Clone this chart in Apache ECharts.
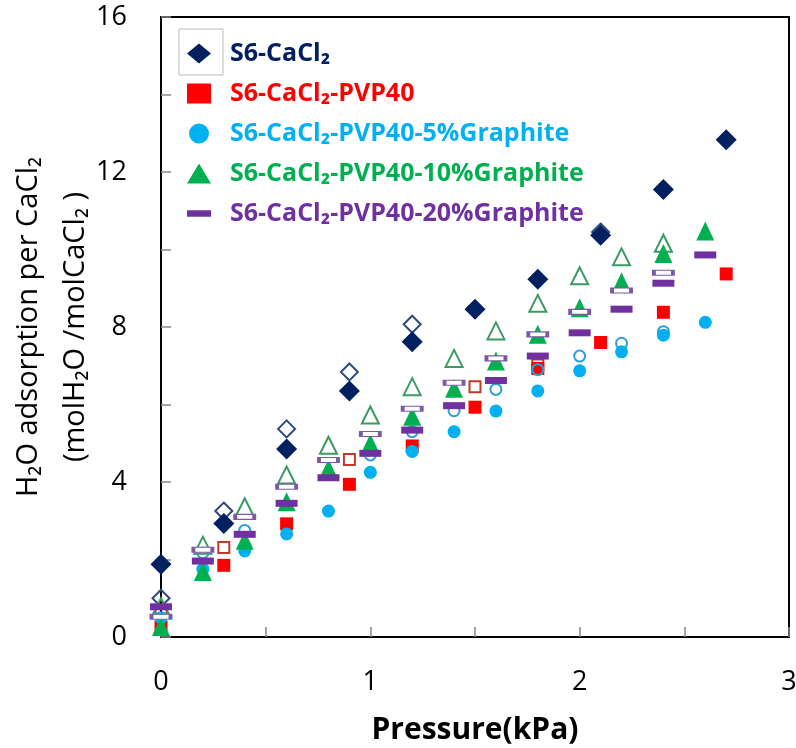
<!DOCTYPE html>
<html>
<head>
<meta charset="utf-8">
<script src="https://cdn.jsdelivr.net/npm/echarts@6/dist/echarts.min.js"></script>
<style>
  html, body { margin: 0; padding: 0; background: #fff; }
  #chart { width: 796px; height: 748px; }
</style>
</head>
<body>
<div id="chart"></div>
<script>
// pressure values (kPa)
const xCaCl2 = [0, 0.3, 0.6, 0.9, 1.2, 1.5, 1.8, 2.1, 2.4, 2.7];
const xCaCl2Hollow = [0, 0.3, 0.6, 0.9, 1.2, 2.1];
const xPvp40 = [0, 0.3, 0.6, 0.9, 1.2, 1.5, 1.8, 2.1, 2.4, 2.7];
const xPvp40Hollow = [0, 0.3, 0.9, 1.5, 1.8];
const xG5 = [0, 0.2, 0.4, 0.6, 0.8, 1.0, 1.2, 1.4, 1.6, 1.8, 2.0, 2.2, 2.4, 2.6];
const xG5Hollow = [0.2, 0.4, 1.0, 1.2, 1.4, 1.6, 1.8, 2.0, 2.2, 2.4];
const xG10 = [0, 0.2, 0.4, 0.6, 0.8, 1.0, 1.2, 1.4, 1.6, 1.8, 2.0, 2.2, 2.4, 2.6];
const xG10Hollow = [0, 0.2, 0.4, 0.6, 0.8, 1.0, 1.2, 1.4, 1.6, 1.8, 2.0, 2.2, 2.4];
const xG20 = [0, 0.2, 0.4, 0.6, 0.8, 1.0, 1.2, 1.4, 1.6, 1.8, 2.0, 2.2, 2.4, 2.6];
const xG20Hollow = [0, 0.2, 0.4, 0.6, 0.8, 1.0, 1.2, 1.4, 1.6, 1.8, 2.0, 2.2, 2.4];

// H2O adsorption (molH2O/molCaCl2)
const yCaCl2 = [1.88, 2.93, 4.85, 6.35, 7.62, 8.46, 9.23, 10.37, 11.55, 12.83];
const yCaCl2Hollow = [1.0, 3.25, 5.37, 6.84, 8.07, 10.45];
const yPvp40 = [0.25, 1.85, 2.92, 3.94, 4.93, 5.93, 6.93, 7.6, 8.38, 9.37];
const yPvp40Hollow = [0.6, 2.31, 4.58, 6.46, 7.02];
const yG5 = [0.5, 1.75, 2.22, 2.66, 3.25, 4.25, 4.79, 5.3, 5.83, 6.35, 6.87, 7.36, 7.79, 8.12];
const yG5Hollow = [2.17, 2.75, 4.7, 5.3, 5.84, 6.39, 6.9, 7.25, 7.58, 7.88];
const yG10 = [0.27, 1.69, 2.5, 3.49, 4.35, 5.0, 5.7, 6.42, 7.12, 7.81, 8.5, 9.17, 9.9, 10.48];
const yG10Hollow = [0.78, 2.37, 3.36, 4.18, 4.95, 5.73, 6.46, 7.19, 7.9, 8.61, 9.32, 9.81, 10.16];
const yG20 = [0.78, 1.96, 2.65, 3.45, 4.11, 4.74, 5.34, 5.97, 6.62, 7.25, 7.85, 8.46, 9.13, 9.86];
const yG20Hollow = [0.52, 2.25, 3.1, 3.88, 4.57, 5.24, 5.89, 6.56, 7.19, 7.81, 8.39, 8.94, 9.4];

const names = [
  'S6-CaCl₂',
  'S6-CaCl₂-PVP40',
  'S6-CaCl₂-PVP40-5%Graphite',
  'S6-CaCl₂-PVP40-10%Graphite',
  'S6-CaCl₂-PVP40-20%Graphite'
];
const colors = ['#002060', '#ff0000', '#00b0f0', '#00b050', '#7030a0'];
const hollowColors = ['#2f4a80', '#c0392b', '#2e9fd8', '#3a9a62', '#7a5aa6'];

function pairs(xs, ys) {
  return xs.map((x, i) => [x, ys[i]]);
}

const chartDom = document.getElementById('chart');
const myChart = echarts.init(chartDom);

const font = '"Open Sans", "DejaVu Sans", sans-serif';

function filled(i, data, symbol, size) {
  return {
    name: names[i],
    type: 'scatter',
    data: data,
    symbol: symbol,
    symbolSize: size,
    itemStyle: { color: colors[i], opacity: 1 },
    emphasis: { disabled: true }
  };
}
function hollow(i, data, symbol, size, fill) {
  return {
    name: names[i] + ' (des)',
    type: 'scatter',
    data: data,
    symbol: symbol,
    symbolSize: size,
    itemStyle: {
      color: fill || 'rgba(255,255,255,0)',
      borderColor: hollowColors[i],
      borderWidth: 2,
      opacity: 1
    },
    emphasis: { disabled: true }
  };
}

let option = {
  backgroundColor: '#fff',
  animation: false,
  grid: {
    left: 161,
    top: 17,
    width: 628,
    height: 620,
    outerBoundsMode: 'none',
    containLabel: false,
    show: true,
    borderColor: '#000',
    borderWidth: 2,
    backgroundColor: 'transparent'
  },
  legend: {
    orient: 'vertical',
    left: 187,
    top: 41,
    padding: 0,
    itemGap: 15,
    itemWidth: 24,
    itemHeight: 20,
    selectedMode: false,
    textStyle: {
      fontFamily: font,
      fontWeight: 'bold',
      fontSize: 25,
      lineHeight: 20,
      padding: [0, 0, 0, 14]
    },
    data: [
      { name: names[0], icon: 'diamond', textStyle: { color: colors[0] } },
      { name: names[1], icon: 'rect', textStyle: { color: colors[1] } },
      { name: names[2], icon: 'circle', textStyle: { color: colors[2] } },
      { name: names[3], icon: 'triangle', textStyle: { color: colors[3] } },
      { name: names[4], icon: 'path://M0,0H26V7H0Z', textStyle: { color: colors[4] } }
    ]
  },
  graphic: [
    {
      type: 'rect',
      shape: { x: 179, y: 29, width: 44, height: 46 },
      style: { fill: 'none', stroke: '#bbb', lineWidth: 1 },
      z: 100
    }
  ],
  xAxis: {
    type: 'value',
    min: 0,
    max: 3,
    interval: 0.5,
    name: 'Pressure(kPa)',
    nameLocation: 'middle',
    nameGap: 78,
    nameTextStyle: { fontFamily: font, fontWeight: 'bold', fontSize: 30, color: '#000' },
    axisLine: { onZero: false, lineStyle: { color: '#000', width: 2 } },
    axisTick: { inside: true, length: 10, lineStyle: { color: '#888', width: 1.5 } },
    axisLabel: {
      fontFamily: font,
      fontSize: 27,
      color: '#000',
      margin: 32,
      formatter: v => (Math.abs(v - Math.round(v)) < 1e-6 ? String(Math.round(v)) : '')
    },
    splitLine: { show: false }
  },
  yAxis: {
    type: 'value',
    min: 0,
    max: 16,
    interval: 2,
    name: 'H₂O adsorption per CaCl₂\n(molH₂O /molCaCl₂ )',
    nameLocation: 'middle',
    nameGap: 62,
    nameMoveOverlap: false,
    nameTextStyle: { fontFamily: font, fontSize: 29, color: '#000', lineHeight: 47 },
    axisLine: { onZero: false, lineStyle: { color: '#000', width: 2 } },
    axisTick: { inside: true, length: 10, lineStyle: { color: '#888', width: 1.5 } },
    axisLabel: {
      fontFamily: font,
      fontSize: 27,
      color: '#000',
      margin: 34,
      formatter: v => (v % 4 === 0 ? String(v) : '')
    },
    splitLine: { show: false }
  },
  series: [
    hollow(0, pairs(xCaCl2Hollow, yCaCl2Hollow), 'diamond', 17),
    filled(0, pairs(xCaCl2, yCaCl2), 'diamond', 21),
    hollow(1, pairs(xPvp40Hollow, yPvp40Hollow), 'rect', 11),
    filled(1, pairs(xPvp40, yPvp40), 'rect', 13),
    hollow(2, pairs(xG5Hollow, yG5Hollow), 'circle', 11),
    filled(2, pairs(xG5, yG5), 'circle', 13),
    hollow(3, pairs(xG10Hollow, yG10Hollow), 'triangle', [17, 17]),
    filled(3, pairs(xG10, yG10), 'triangle', [18, 19]),
    hollow(4, pairs(xG20Hollow, yG20Hollow), 'rect', [19, 5], '#ffffff'),
    filled(4, pairs(xG20, yG20), 'rect', [22, 7])
  ]
};
option && myChart.setOption(option);
</script>
</body>
</html>
